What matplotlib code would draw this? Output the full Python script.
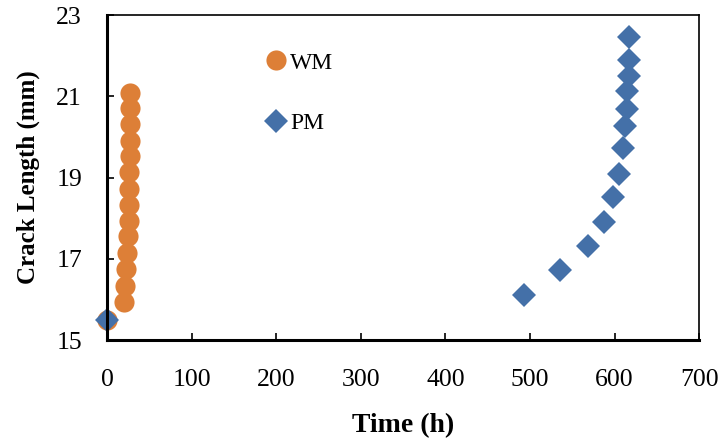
import numpy as np
import matplotlib.pyplot as plt

# weld metal (WM) and parent metal (PM) crack growth data
wm_time = [0, 20, 21, 22, 24, 25, 26, 26, 26, 26, 27, 27, 27, 27, 27]
wm_crack = [15.5, 15.94, 16.34, 16.76, 17.15, 17.55, 17.92, 18.32, 18.71, 19.13,
            19.53, 19.9, 20.32, 20.72, 21.09]

pm_time = [0, 493, 535, 569, 587, 598, 605, 610, 612.5, 615, 615, 617, 617, 617]
pm_crack = [15.5, 16.11, 16.73, 17.31, 17.9, 18.52, 19.08, 19.73, 20.28, 20.69,
            21.12, 21.51, 21.89, 22.45]

plt.rcParams['font.family'] = ['Liberation Serif', 'DejaVu Serif']

fig = plt.figure(figsize=(7.23, 4.43), dpi=100)
ax = fig.add_axes([0.148, 0.2325, 0.819, 0.7335])

ax.plot(wm_time, wm_crack, 'o', color='#DD7F37', markersize=14.5,
        markeredgewidth=0, label='WM', clip_on=False)
ax.plot(pm_time, pm_crack, 'D', color='#4470A8', markersize=12.5,
        markeredgewidth=0, label='PM', clip_on=False)

ax.set_xlim(0, 700)
ax.set_ylim(15, 23)
ax.set_xticks(np.arange(0, 701, 100))
ax.set_yticks([15, 17, 19, 21, 23])
ax.tick_params(direction='in', length=5, width=1.2, labelsize=18.5)
ax.tick_params(axis='x', pad=21)
ax.tick_params(axis='y', pad=18)

for side in ['left', 'bottom']:
    ax.spines[side].set_linewidth(2.2)
for side in ['top', 'right']:
    ax.spines[side].set_linewidth(1.2)

ax.set_xlabel('Time (h)', fontsize=20, fontweight='bold', labelpad=16)
ax.set_ylabel('Crack Length (mm)', fontsize=18, fontweight='bold', labelpad=12)

ax.legend(loc='upper left', bbox_to_anchor=(0.245, 0.915), frameon=False,
          fontsize=17, labelspacing=1.64, handletextpad=0.02, handlelength=1.2,
          borderaxespad=0)

fig.savefig('out.png', dpi=100)
